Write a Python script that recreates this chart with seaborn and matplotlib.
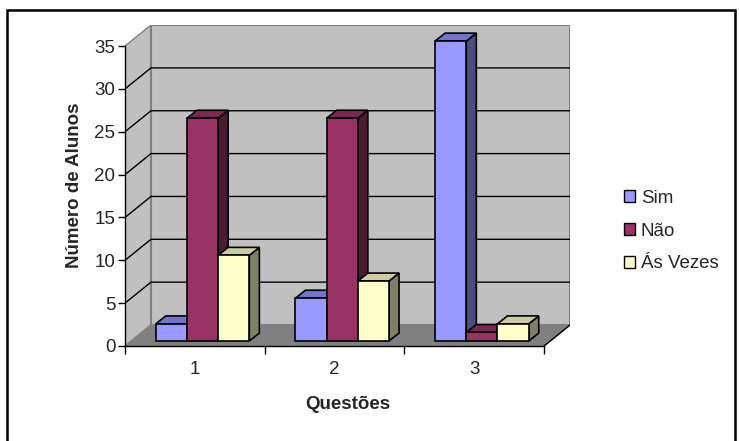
import pandas as pd
import seaborn as sns
import matplotlib.pyplot as plt
from matplotlib.patches import Polygon, Rectangle

# chart values
questoes = ['1', '2', '3']
respostas = ['Sim', 'Não', 'Ás Vezes']
sim = [2, 5, 35]
nao = [26, 26, 1]
as_vezes = [10, 7, 2]
y_ticks = [0, 5, 10, 15, 20, 25, 30, 35]

front_cols = {'Sim': '#9999FF', 'Não': '#993366', 'Ás Vezes': '#FFFFCC'}
side_cols = {'Sim': '#4D4D80', 'Não': '#4D1A33', 'Ás Vezes': '#808066'}
top_cols = {'Sim': '#7373CC', 'Não': '#7A2952', 'Ás Vezes': '#CCCCA3'}

df = pd.DataFrame({
    'Questão': questoes * 3,
    'Resposta': [r for r in respostas for _ in questoes],
    'Alunos': sim + nao + as_vezes,
})

sns.set_theme(style='white')
plt.rcParams['font.family'] = ['Liberation Sans', 'DejaVu Sans']
FS = 13.5

fig = plt.figure(figsize=(7.39, 4.41), dpi=100)
W, H = 739, 441
# axes placed so x=-0.5 -> px 125, y=0 -> px 346
ax = fig.add_axes([125 / W, (H - 346) / H, 445 / W, 321 / H])

# depth of the wall and of the bars, in data units
wdx, wdy = 0.186, 2.45
off_x, off_y = 0.055, 0.58
bdx, bdy = 0.072, 0.93
ymax = y_ticks[-1]

# walls and floor
ax.add_patch(Polygon([(-0.5, 0), (-0.5, ymax), (-0.5 + wdx, ymax + wdy), (-0.5 + wdx, wdy)],
                     closed=True, fc='#C0C0C0', ec='#808080', lw=1, zorder=0))
ax.add_patch(Polygon([(-0.5 + wdx, wdy), (2.5 + wdx, wdy), (2.5 + wdx, ymax + wdy), (-0.5 + wdx, ymax + wdy)],
                     closed=True, fc='#C0C0C0', ec='#808080', lw=1.5, zorder=0))
ax.add_patch(Polygon([(-0.5, 0), (2.5, 0), (2.5 + wdx, wdy), (-0.5 + wdx, wdy)],
                     closed=True, fc='#808080', ec='#808080', lw=1, zorder=0))
ax.plot([2.5, 2.5 + wdx], [0, wdy], color='black', lw=1, zorder=0.5)
for v in y_ticks[1:-1]:
    ax.plot([-0.5, -0.5 + wdx, 2.5 + wdx], [v, v + wdy, v + wdy], color='black', lw=1, zorder=0.5)

sns.barplot(data=df, x='Questão', y='Alunos', hue='Resposta', palette=front_cols,
            width=0.67, gap=0, edgecolor='black', linewidth=1.2, saturation=1,
            legend=True, ax=ax, zorder=2)

# give each bar its depth: shift the front face back and add side and top faces
for cont, resp in zip(ax.containers, respostas):
    for bar in cont:
        x0 = bar.get_x() + off_x
        w = bar.get_width()
        h = bar.get_height()
        bar.set_x(x0)
        bar.set_y(off_y)
        y1 = off_y + h
        ax.add_patch(Polygon([(x0 + w, off_y), (x0 + w + bdx, off_y + bdy), (x0 + w + bdx, y1 + bdy), (x0 + w, y1)],
                             closed=True, fc=side_cols[resp], ec='black', lw=1.2, zorder=1.9))
        ax.add_patch(Polygon([(x0, y1), (x0 + bdx, y1 + bdy), (x0 + w + bdx, y1 + bdy), (x0 + w, y1)],
                             closed=True, fc=top_cols[resp], ec='black', lw=1.2, zorder=1.9))

ax.set_xlim(-0.5, 2.5 + wdx)
ax.set_ylim(0, 321 / 8.57)
for s in ['top', 'right']:
    ax.spines[s].set_visible(False)
ax.spines['left'].set_bounds(0, ymax)
ax.spines['bottom'].set_bounds(-0.5, 2.5)
for s in ['left', 'bottom']:
    ax.spines[s].set_color('black')
    ax.spines[s].set_linewidth(1)
    ax.spines[s].set_zorder(3)

ax.set_yticks(y_ticks)
ax.set_xticks([-0.5, 0.5, 1.5, 2.5])
ax.set_xticklabels([])
ax.set_xticks([0, 1, 2], minor=True)
ax.set_xticklabels(questoes, minor=True)
ax.tick_params(axis='x', which='major', length=6, width=1, color='black', direction='out', bottom=True)
ax.tick_params(axis='x', which='minor', length=0, labelsize=FS, pad=11, bottom=True)
ax.tick_params(axis='y', length=5, width=1, color='black', direction='out', labelsize=FS, pad=2, left=True)

ax.set_xlabel('Questões', fontsize=FS, fontweight='bold', labelpad=13)
ax.set_ylabel('Número de Alunos', fontsize=FS, fontweight='bold', labelpad=8)

leg = ax.legend(loc='center left', bbox_to_anchor=(607 / W, (H - 231) / H), bbox_transform=fig.transFigure,
                frameon=False, fontsize=FS, handlelength=0.6, handleheight=0.6,
                handletextpad=0.3, labelspacing=0.85)
for hnd in leg.legend_handles:
    hnd.set_edgecolor('black')
    hnd.set_linewidth(1)

# outer chart frame
fig.patches.append(Rectangle((7 / W, -0.01), 728 / W, (H - 10) / H + 0.01, transform=fig.transFigure,
                             fill=False, ec='black', lw=1.8))

fig.savefig('out.png', dpi=100)
